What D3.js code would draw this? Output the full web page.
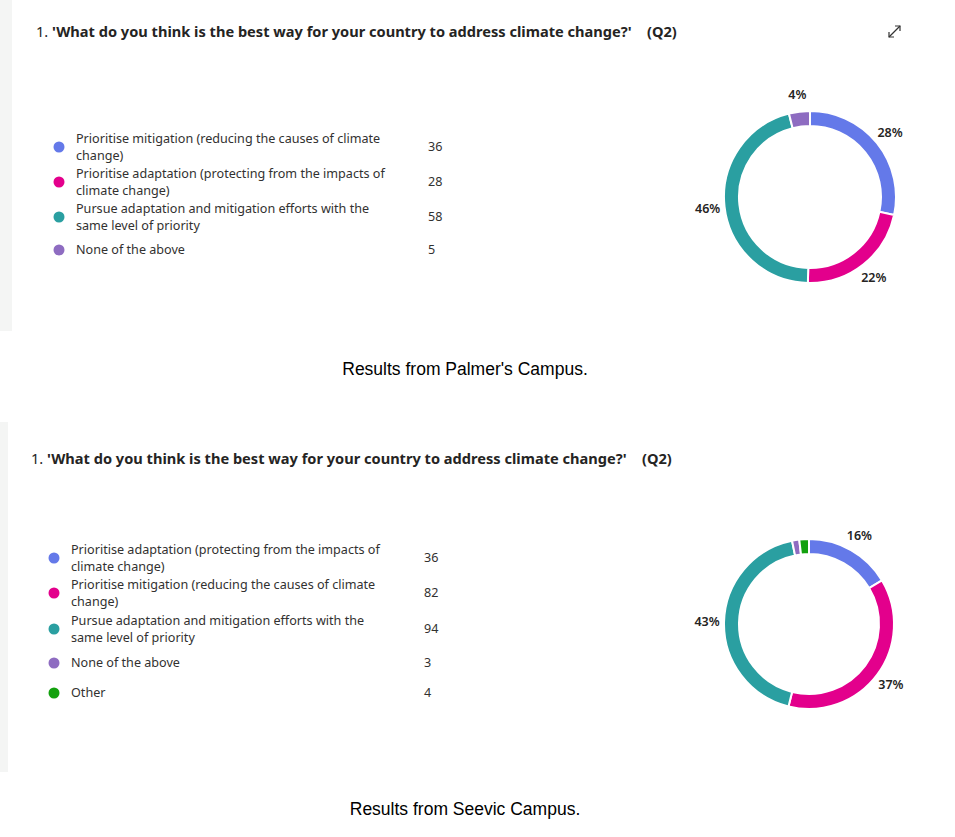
<!DOCTYPE html>
<html>
<head>
<meta charset="utf-8">
<script src="https://cdn.jsdelivr.net/npm/d3@7"></script>
<style>
  html, body { margin: 0; padding: 0; background: #ffffff; }
  svg { display: block; }
</style>
</head>
<body>
<svg id="chart" width="955" height="837"></svg>
<script>
// ---- Data ----
const titleText = "'What do you think is the best way for your country to address climate change?'";
const qTag = "(Q2)";

const palmerLabels = [
  ["Prioritise mitigation (reducing the causes of climate", "change)"],
  ["Prioritise adaptation (protecting from the impacts of", "climate change)"],
  ["Pursue adaptation and mitigation efforts with the", "same level of priority"],
  ["None of the above"]
];
const palmerValues = [36, 28, 58, 5];
const palmerColors = ["#6479E9", "#E3008C", "#2A9FA1", "#8E6CC1"];

const seevicLabels = [
  ["Prioritise adaptation (protecting from the impacts of", "climate change)"],
  ["Prioritise mitigation (reducing the causes of climate", "change)"],
  ["Pursue adaptation and mitigation efforts with the", "same level of priority"],
  ["None of the above"],
  ["Other"]
];
const seevicValues = [36, 82, 94, 3, 4];
const seevicColors = ["#6479E9", "#E3008C", "#2A9FA1", "#8E6CC1", "#13A10E"];

const captions = ["Results from Palmer's Campus.", "Results from Seevic Campus."];

// ---- Drawing ----
const svg = d3.select("#chart");
const uiFont = "'Noto Sans', 'Open Sans', sans-serif";

function panel(cfg) {
  const g = svg.append("g");
  // faint left strip of the card
  g.append("rect").attr("x", 0).attr("y", cfg.stripTop).attr("width", cfg.stripW)
    .attr("height", cfg.stripH).attr("fill", "#f4f5f4");

  // title
  const t = g.append("text").attr("x", cfg.titleX).attr("y", cfg.titleY)
    .attr("font-family", uiFont).attr("font-size", 14.6).attr("fill", "#252423");
  t.append("tspan").text("1. ");
  t.append("tspan").attr("font-weight", "bold").text(titleText);
  g.append("text").attr("x", cfg.titleX + 611).attr("y", cfg.titleY)
    .attr("font-family", uiFont).attr("font-size", 14.6).attr("font-weight", "bold")
    .attr("fill", "#252423").text(qTag);

  // legend
  const rows = g.selectAll("g.row").data(cfg.labels.map((l, i) => ({l, v: cfg.values[i], c: cfg.colors[i], y: cfg.rowY[i]})))
    .enter().append("g").attr("class", "row");
  rows.append("circle").attr("cx", cfg.legX).attr("cy", d => d.y).attr("r", 5.5).attr("fill", d => d.c);
  rows.each(function(d) {
    const sel = d3.select(this);
    const n = d.l.length;
    d.l.forEach((line, j) => {
      sel.append("text").attr("x", cfg.legX + 17)
        .attr("y", d.y + (j - (n - 1) / 2) * 17.5)
        .attr("dy", "0.35em")
        .attr("font-family", uiFont).attr("font-size", 12.6).attr("fill", "#323130")
        .text(line);
    });
  });
  rows.append("text").attr("x", cfg.valX).attr("y", d => d.y).attr("dy", "0.35em")
    .attr("font-family", uiFont).attr("font-size", 12.6).attr("fill", "#323130")
    .text(d => d.v);

  // donut
  const total = d3.sum(cfg.values);
  const pie = d3.pie().sort(null).value(d => d);
  const arcs = pie(cfg.values);
  const arc = d3.arc().innerRadius(cfg.r - 15).outerRadius(cfg.r);
  const labelArc = d3.arc().innerRadius(cfg.r + 17).outerRadius(cfg.r + 17);
  const dg = g.append("g").attr("transform", `translate(${cfg.cx},${cfg.cy})`);
  dg.selectAll("path").data(arcs).enter().append("path")
    .attr("d", arc).attr("fill", (d, i) => cfg.colors[i])
    .attr("stroke", "#ffffff").attr("stroke-width", 2);
  dg.selectAll("text").data(arcs.filter(d => d.value / total >= 0.03)).enter().append("text")
    .attr("transform", d => `translate(${labelArc.centroid(d)})`)
    .attr("text-anchor", "middle").attr("dy", "0.35em")
    .attr("font-family", uiFont).attr("font-size", 12.5).attr("font-weight", 600)
    .attr("fill", "#252423")
    .text(d => Math.round(d.value / total * 100) + "%");
}

panel({
  stripTop: 0, stripW: 12, stripH: 331,
  titleX: 36, titleY: 37,
  labels: palmerLabels, values: palmerValues, colors: palmerColors,
  rowY: [147, 182, 217, 250], legX: 59, valX: 428,
  cx: 810, cy: 197, r: 86
});

panel({
  stripTop: 422, stripW: 8, stripH: 350,
  titleX: 31, titleY: 464,
  labels: seevicLabels, values: seevicValues, colors: seevicColors,
  rowY: [558, 593, 629, 663, 693], legX: 54, valX: 424,
  cx: 809, cy: 624, r: 85
});

// expand icon
const ic = svg.append("g").attr("stroke", "#333").attr("stroke-width", 1.2).attr("fill", "none");
ic.append("line").attr("x1", 889).attr("y1", 37).attr("x2", 900).attr("y2", 26);
ic.append("polyline").attr("points", "895,26 900,26 900,31");
ic.append("polyline").attr("points", "889,32 889,37 894,37");

// captions
svg.selectAll("text.caption").data(captions).enter().append("text")
  .attr("class", "caption")
  .attr("x", 465).attr("y", (d, i) => i === 0 ? 369 : 809)
  .attr("dy", "0.35em")
  .attr("text-anchor", "middle")
  .attr("font-family", "'Liberation Sans', Arial, sans-serif").attr("font-size", 17.5)
  .attr("fill", "#000")
  .text(d => d);
</script>
</body>
</html>
